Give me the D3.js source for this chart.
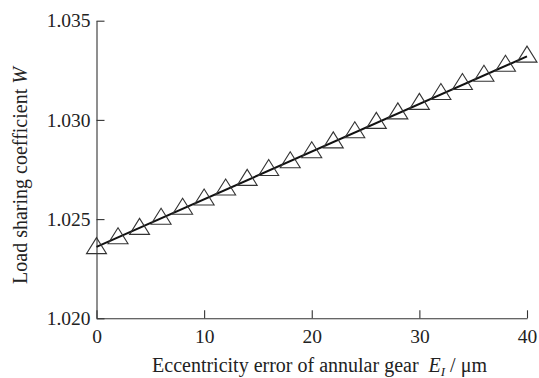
<!DOCTYPE html>
<html>
<head>
<meta charset="utf-8">
<script src="https://cdn.jsdelivr.net/npm/d3@7"></script>
<style>
  html, body { margin: 0; padding: 0; background: #fff; }
  svg { display: block; }
  text { font-family: "Liberation Serif", "Times New Roman", serif; fill: #222; }
</style>
</head>
<body>
<svg id="chart" width="539" height="378"></svg>
<script>
// ---- data ----
const xValues = [0, 2, 4, 6, 8, 10, 12, 14, 16, 18, 20, 22, 24, 26, 28, 30, 32, 34, 36, 38, 40];
const wValues = [1.02353, 1.02403, 1.02450, 1.02501, 1.02551, 1.02598, 1.02648, 1.02697, 1.02747, 1.02786,
                 1.02836, 1.02886, 1.02937, 1.02984, 1.03032, 1.03080, 1.03130, 1.03180, 1.03222, 1.03272, 1.03318];
const fitX = [0, 40];
const fitW = [1.0236, 1.0332];
const xTicks = [0, 10, 20, 30, 40];
const yTicks = [1.020, 1.025, 1.030, 1.035];
const xTitle = "Eccentricity error of annular gear";
const yTitle = "Load sharing coefficient";

// ---- layout ----
const svg = d3.select("#chart");
const x = d3.scaleLinear().domain([0, 40]).range([96.5, 527]);
const y = d3.scaleLinear().domain([1.020, 1.035]).range([318.3, 20.7]);
const axisColor = "#333";

// y axis
const gy = svg.append("g").attr("transform", "translate(96.5,0)")
  .call(d3.axisLeft(y).tickValues(yTicks).tickFormat(d3.format(".3f"))
        .tickSizeInner(-8).tickSizeOuter(0).tickPadding(6));
// x axis
const gx = svg.append("g").attr("transform", "translate(0,318.3)")
  .call(d3.axisBottom(x).tickValues(xTicks).tickFormat(d3.format("d"))
        .tickSizeInner(-8).tickSizeOuter(0).tickPadding(11));

[gx, gy].forEach(g => {
  g.select(".domain").attr("stroke", axisColor).attr("stroke-width", 1.1);
  g.selectAll(".tick line").attr("stroke", axisColor).attr("stroke-width", 1.1);
  g.selectAll(".tick text").attr("fill", "#222")
    .style("font-family", '"Liberation Serif", serif').style("font-size", "19.5px");
});
gx.selectAll(".tick text").attr("dy", "0.68em");

// fit line
const line = d3.line().x((d, i) => x(fitX[i])).y((d, i) => y(fitW[i]));
svg.append("path").datum(fitX)
  .attr("d", line)
  .attr("fill", "none").attr("stroke", "#111").attr("stroke-width", 2);

// triangle markers (centroid at data point)
const triW = 20, triH = 16;
const tri = `M0,${-triH * 2 / 3}L${triW / 2},${triH / 3}L${-triW / 2},${triH / 3}Z`;
svg.append("g").selectAll("path").data(xValues).join("path")
  .attr("transform", (d, i) => `translate(${x(d)},${y(wValues[i])})`)
  .attr("d", tri)
  .attr("fill", "none").attr("stroke", "#333").attr("stroke-width", 1.1);

// x title
const xt = svg.append("text").attr("x", 319.5).attr("y", 372)
  .attr("text-anchor", "middle").style("font-size", "20px");
xt.append("tspan").text(xTitle + "\u00a0\u00a0");
xt.append("tspan").attr("font-style", "italic").text("E");
xt.append("tspan").attr("font-style", "italic").attr("font-size", "13px").attr("dy", 4).text("I");
xt.append("tspan").attr("dy", -4).text("\u00a0/\u00a0\u03bcm");

// y title
const yt = svg.append("text")
  .attr("transform", "translate(27,175.5) rotate(-90)")
  .attr("text-anchor", "middle").style("font-size", "20px");
yt.append("tspan").text(yTitle + "\u00a0");
yt.append("tspan").attr("font-style", "italic").text("W");
</script>
</body>
</html>
